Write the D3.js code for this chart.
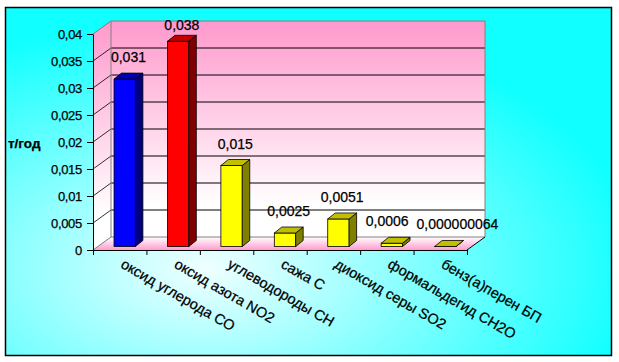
<!DOCTYPE html>
<html>
<head>
<meta charset="utf-8">
<script src="https://cdn.jsdelivr.net/npm/d3@7"></script>
<style>
body { margin: 0; background: #fff; }
text { font-family: "Liberation Sans", Arial, sans-serif; fill: #000; stroke: #000; stroke-width: 0.25px; }
</style>
</head>
<body>
<div id="chart"></div>
<script>
// DATA
var categories = ["оксид углерода СО", "оксид азота NO2", "углеводороды СН", "сажа С",
                  "диоксид серы SO2", "формальдегид CH2O", "бенз(а)перен БП"];
var values = [0.031, 0.038, 0.015, 0.0025, 0.0051, 0.0006, 0.000000064];
var yTicks = [0, 0.005, 0.01, 0.015, 0.02, 0.025, 0.03, 0.035, 0.04];
var yTitle = "т/год";

var W = 619, H = 362;
var plot = {left: 93, right: 467, top: 34, bottom: 250};
var depth = {x: 18, y: -13};       // wall depth offset
var barOff = {x: 5, y: -3.5};      // bar front face offset from the floor front
var barDepth = {x: 7.5, y: -6};    // bar depth

var palette = [
  {front: "#0000ff", side: "#000080", top: "#0000b0"},
  {front: "#ff0000", side: "#800000", top: "#c00000"},
  {front: "#ffff00", side: "#808000", top: "#c0c000"}
];
function colorFor(i) { return palette[Math.min(i, 2)]; }

function fmt(v) {
  var s = v.toFixed(12).replace(/0+$/, "").replace(/\.$/, "");
  return s.replace(".", ",");
}

var svg = d3.select("#chart").append("svg")
  .attr("width", W).attr("height", H);

var defs = svg.append("defs");
var bg = defs.append("radialGradient").attr("id", "bgGrad")
  .attr("cx", "33%").attr("cy", "75%").attr("r", "72%");
bg.append("stop").attr("offset", "0%").attr("stop-color", "#f0ffff");
bg.append("stop").attr("offset", "100%").attr("stop-color", "#10ffff");

var wallG = defs.append("linearGradient").attr("id", "wallGrad")
  .attr("x1", 0).attr("y1", 0).attr("x2", 0).attr("y2", 1);
wallG.append("stop").attr("offset", "0%").attr("stop-color", "#ff99cc");
wallG.append("stop").attr("offset", "85%").attr("stop-color", "#ffffff");
wallG.append("stop").attr("offset", "100%").attr("stop-color", "#ffffff");

var floorG = defs.append("linearGradient").attr("id", "floorGrad")
  .attr("x1", 0).attr("y1", 0).attr("x2", 0).attr("y2", 1);
floorG.append("stop").attr("offset", "0%").attr("stop-color", "#ffffff");
floorG.append("stop").attr("offset", "100%").attr("stop-color", "#ff9cce");

// BACKGROUND
svg.append("rect")
  .attr("x", 5.5).attr("y", 7.5).attr("width", 606).attr("height", 348)
  .attr("fill", "url(#bgGrad)")
  .attr("stroke", "#000").attr("stroke-width", 1.5);

// SCALES
var xScale = d3.scaleBand().domain(categories).range([plot.left, plot.right]);
var xIndex = d3.scaleLinear().domain([0, categories.length]).range([plot.left, plot.right]);
var yScale = d3.scaleLinear().domain([0, 0.04]).range([plot.bottom, plot.top]);

var yMax = yScale(0.04), y0 = yScale(0);
var bx = plot.left + depth.x, bRight = plot.right + depth.x;

// WALLS
svg.append("polygon")
  .attr("points", [[plot.left, yMax], [bx, yMax + depth.y], [bx, y0 + depth.y], [plot.left, y0]].join(" "))
  .attr("fill", "url(#wallGrad)");
svg.append("rect")
  .attr("x", bx).attr("y", yMax + depth.y)
  .attr("width", bRight - bx).attr("height", y0 - yMax)
  .attr("fill", "url(#wallGrad)");
svg.append("polygon")
  .attr("points", [[plot.left, y0], [bx, y0 + depth.y], [bRight, y0 + depth.y], [plot.right, y0]].join(" "))
  .attr("fill", "url(#floorGrad)");

// GRIDLINES
var gridVals = yTicks.filter(function(d) { return d > 0 && d < 0.04; });
svg.selectAll("line.grid").data(gridVals).enter().append("line")
  .attr("class", "grid")
  .attr("x1", bx).attr("x2", bRight)
  .attr("y1", function(d) { return yScale(d) + depth.y; })
  .attr("y2", function(d) { return yScale(d) + depth.y; })
  .attr("stroke", "#000").attr("stroke-width", 1);
svg.selectAll("line.gridside").data(gridVals).enter().append("line")
  .attr("class", "gridside")
  .attr("x1", plot.left).attr("x2", bx)
  .attr("y1", function(d) { return yScale(d); })
  .attr("y2", function(d) { return yScale(d) + depth.y; })
  .attr("stroke", "#000").attr("stroke-width", 0.8);

// WALL BORDERS
svg.append("path")
  .attr("d", "M" + plot.left + "," + yMax + "L" + bx + "," + (yMax + depth.y) +
             "L" + bRight + "," + (yMax + depth.y) + "L" + bRight + "," + (y0 + depth.y) +
             "M" + bx + "," + (yMax + depth.y) + "L" + bx + "," + (y0 + depth.y) +
             "L" + bRight + "," + (y0 + depth.y) +
             "M" + plot.left + "," + y0 + "L" + bx + "," + (y0 + depth.y))
  .attr("fill", "none").attr("stroke", "#808080").attr("stroke-width", 1);
svg.append("line")
  .attr("x1", plot.right).attr("y1", y0)
  .attr("x2", bRight).attr("y2", y0 + depth.y)
  .attr("stroke", "#000").attr("stroke-width", 1);

// BARS
var bw = xScale.bandwidth() * 0.4;
var bars = svg.selectAll("g.bar").data(values).enter().append("g").attr("class", "bar");

function bx0(d, i) { return xScale(categories[i]) + xScale.bandwidth() * 0.3 + barOff.x; }
function byT(d) { return yScale(d) + barOff.y; }
var byB = y0 + barOff.y;

bars.append("rect")
  .attr("x", bx0)
  .attr("y", byT)
  .attr("width", bw)
  .attr("height", function(d) { return byB - byT(d); })
  .attr("fill", function(d, i) { return colorFor(i).front; })
  .attr("stroke", "#000").attr("stroke-width", 0.8);

bars.append("polygon")
  .attr("points", function(d, i) {
    var x = bx0(d, i) + bw, t = byT(d);
    return [[x, t], [x + barDepth.x, t + barDepth.y], [x + barDepth.x, byB + barDepth.y], [x, byB]].join(" ");
  })
  .attr("fill", function(d, i) { return colorFor(i).side; })
  .attr("stroke", "#000").attr("stroke-width", 0.8).attr("stroke-linejoin", "round");

bars.append("polygon")
  .attr("points", function(d, i) {
    var x = bx0(d, i), t = byT(d);
    return [[x, t], [x + barDepth.x, t + barDepth.y], [x + bw + barDepth.x, t + barDepth.y], [x + bw, t]].join(" ");
  })
  .attr("fill", function(d, i) { return colorFor(i).top; })
  .attr("stroke", "#000").attr("stroke-width", 0.8).attr("stroke-linejoin", "round");

// VALUE LABELS
var labels = svg.selectAll("text.val").data(values).enter().append("text")
  .attr("class", "val")
  .attr("text-anchor", "middle")
  .style("font-size", "14px")
  .attr("x", function(d, i) { return bx0(d, i) + bw / 2 + barDepth.x / 2; })
  .attr("y", function(d) { return Math.max(byT(d) + barDepth.y - 11, 30); })
  .text(fmt);

// push overlapping neighbours apart
var lab = [];
labels.each(function(d, i) {
  lab.push({node: this, x: +d3.select(this).attr("x"), w: this.getComputedTextLength()});
});
for (var k = 1; k < lab.length; k++) {
  var a = lab[k - 1], b = lab[k];
  var ov = (a.x + a.w / 2 + 8) - (b.x - b.w / 2);
  if (ov > 0) {
    a.x -= ov / 2; b.x += ov / 2;
    d3.select(a.node).attr("x", a.x);
    d3.select(b.node).attr("x", b.x);
  }
}

// AXES
var yAxis = d3.axisLeft(yScale).tickValues(yTicks).tickFormat(fmt)
  .tickSize(6).tickSizeOuter(0).tickPadding(5);
var gy = svg.append("g").attr("transform", "translate(" + plot.left + ",0)").call(yAxis);
gy.selectAll("text").style("font-size", "13px").style("letter-spacing", "-0.3px")
  .attr("font-family", null);
gy.selectAll("line, path").attr("stroke", "#000");

var xAxis = d3.axisBottom(xIndex).tickValues(d3.range(categories.length + 1))
  .tickFormat("").tickSize(5).tickSizeOuter(0);
var gx = svg.append("g").attr("transform", "translate(0," + y0 + ")").call(xAxis);
gx.selectAll("line, path").attr("stroke", "#000");

// CATEGORY LABELS
svg.selectAll("text.cat").data(categories).enter().append("text")
  .attr("class", "cat")
  .style("font-size", "14.5px")
  .attr("transform", function(d) {
    return "translate(" + (xScale(d) + xScale.bandwidth() / 2) + "," + (y0 + 17) + ") rotate(30)";
  })
  .text(function(d) { return d; });

// Y TITLE
svg.append("text")
  .attr("x", 8).attr("y", 148)
  .style("font-size", "13.5px").style("font-weight", "bold")
  .text(yTitle);
</script>
</body>
</html>
